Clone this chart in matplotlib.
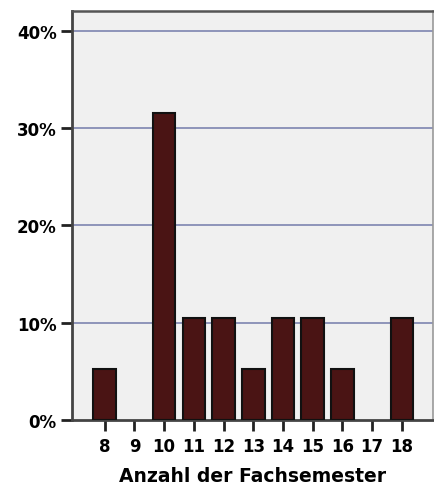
import matplotlib
matplotlib.use("Agg")
import matplotlib.pyplot as plt
from matplotlib.ticker import FuncFormatter

# Anzahl der Fachsemester (n = 19)
semester = [8, 9, 10, 11, 12, 13, 14, 15, 16, 17, 18]
prozent = [5.26, 0, 31.58, 10.53, 10.53, 5.26, 10.53, 10.53, 5.26, 0, 10.53]
yticks = [0, 10, 20, 30, 40]

fig = plt.figure(figsize=(4.34, 4.89), dpi=100)
ax = fig.add_axes([0.166, 0.139, 0.832, 0.836])
ax.set_facecolor("#f0f0f0")

# leere Kategorien nicht zeichnen (sonst sieht man die Randlinie)
xs = [s for s, p in zip(semester, prozent) if p > 0]
ps = [p for p in prozent if p > 0]
ax.bar(xs, ps, width=0.76, color="#4a1414", edgecolor="#111111", linewidth=1.5, zorder=3)

for y in yticks[1:]:
    ax.axhline(y, color="#7d85b0", linewidth=1.2, zorder=1)

ax.set_xlim(6.9, 19.05)
ax.set_ylim(0, 42)
ax.set_xticks(semester)
ax.set_yticks(yticks)
ax.yaxis.set_major_formatter(FuncFormatter(lambda v, p: "%d%%" % v))

for lab in ax.get_xticklabels() + ax.get_yticklabels():
    lab.set_fontweight("bold")
    lab.set_fontsize(12)
ax.tick_params(axis="both", direction="out", length=8, width=2, color="#222222", pad=3)
ax.tick_params(axis="x", pad=4)

ax.spines["left"].set_color("#444444")
ax.spines["left"].set_linewidth(2)
ax.spines["bottom"].set_color("#444444")
ax.spines["bottom"].set_linewidth(2)
ax.spines["top"].set_color("#555555")
ax.spines["top"].set_linewidth(1.8)
ax.spines["right"].set_color("#999999")
ax.spines["right"].set_linewidth(1.2)

ax.set_xlabel("Anzahl der Fachsemester", fontsize=13.5, fontweight="bold", labelpad=8)

fig.savefig("out.png", dpi=100)
